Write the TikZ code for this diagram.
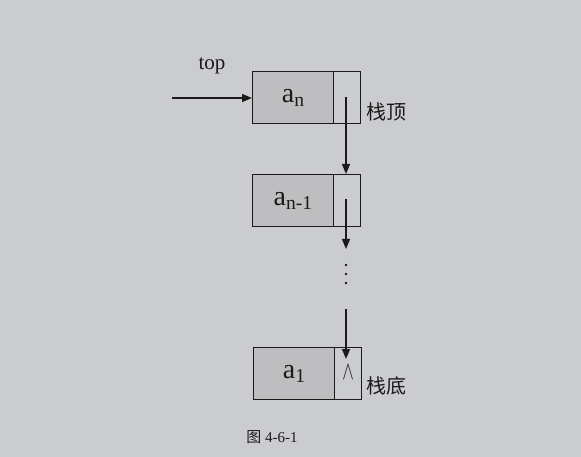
\documentclass[tikz,border=0pt]{standalone}
\usepackage{fontspec}
\setmainfont{Liberation Serif}
\newfontfamily\cjk{Noto Sans CJK SC}
\usetikzlibrary{arrows.meta}
\definecolor{bg}{HTML}{CBCCCF}
\definecolor{cellfill}{HTML}{BEBEC0}
\definecolor{ink}{HTML}{1A1A1A}
\begin{document}
\begin{tikzpicture}[x=1pt,y=-1pt,
  datacell/.style={draw=ink,line width=1.4pt,fill=cellfill,minimum width=81pt,minimum height=52pt,inner sep=0pt,anchor=north west,font=\fontsize{28}{30}\selectfont,text=ink},
  linkcell/.style={draw=ink,line width=1.4pt,minimum width=27pt,minimum height=52pt,inner sep=0pt,anchor=north west},
  link/.style={draw=ink,line width=1.3pt,-{Triangle[length=10pt,width=8pt]}},
  cjklabel/.style={font=\cjk\fontsize{20}{22}\selectfont,text=ink,anchor=west},
  dotlabel/.style={fill=ink,circle,inner sep=0pt,minimum size=2.6pt}]
\useasboundingbox[fill=bg] (0,0) rectangle (581,457);
% nodes
\node[datacell] (d1) at (252,71) {a\textsubscript{n}};
\node[linkcell] (p1) at (333,71) {};
\node[datacell] (d2) at (252,174) {a\textsubscript{n-1}};
\node[linkcell] (p2) at (333,174) {};
\node[datacell] (d3) at (253,347) {a\textsubscript{1}};
\node[linkcell] (p3) at (334,347) {};
\node[font=\fontsize{18}{20}\selectfont,text=ink,yscale=1.5] (nil) at ([yshift=1pt]p3.center) {$\wedge$};
\node[font=\fontsize{21}{22}\selectfont,text=ink] (toplbl) at (212,66) {top};
\coordinate (topstart) at (172,98);
\node[cjklabel] (lbltop) at (363,112) {栈顶};
\node[cjklabel] (lblbot) at (363,386) {栈底};
\node[font=\fontsize{15}{17}\selectfont,text=ink] (cap) at (272,437) {{\cjk 图} 4-6-1};
% dots
\node[dotlabel] (dA) at (346,265) {};
\node[dotlabel] (dB) at (346,274) {};
\node[dotlabel] (dC) at (346,283) {};
\coordinate (s1) at (346,97);
\coordinate (s2) at (346,199);
\coordinate (e2) at (346,249);
\coordinate (s3) at (346,309);
\coordinate (e3) at (346,359);
% connectors
\draw[link] (topstart) -- (d1.west |- topstart);
\draw[link] (s1) -- (s1 |- p2.north);
\draw[link] (s2) -- (e2);
\draw[link] (s3) -- (e3);
\end{tikzpicture}
\end{document}
